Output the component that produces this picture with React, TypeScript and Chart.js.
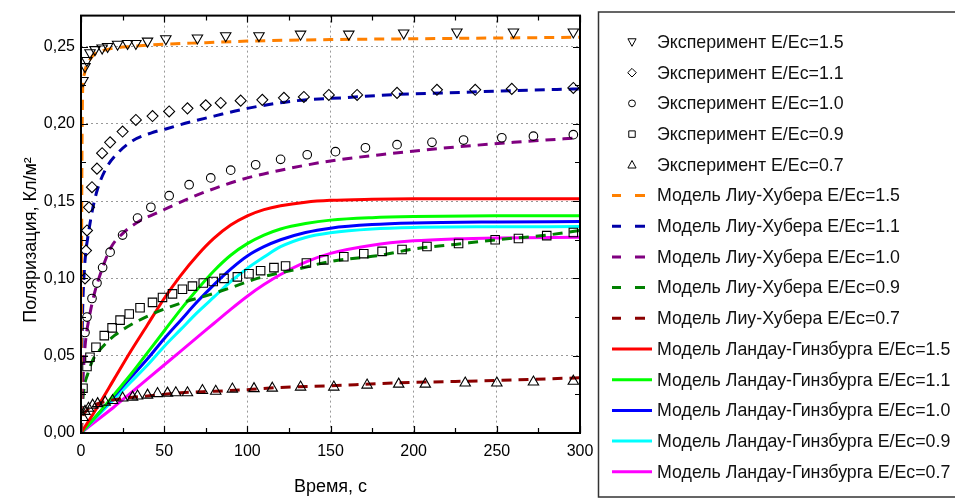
import React, { useEffect, useRef } from 'react';
import { Chart, registerables } from 'chart.js';
Chart.register(...registerables);

const xTicks = [0, 50, 100, 150, 200, 250, 300];
const xMinorTicks = [25, 75, 125, 175, 225, 275];
const yTicks = [0, 0.05, 0.1, 0.15, 0.2, 0.25];
const yMinorTicks = [0.025, 0.075, 0.125, 0.175, 0.225];
const xMax = 300;
const yMax = 0.27;

const xTitle = 'Время, с';
const yTitle = 'Поляризация, Кл/м²';

// Experiments
const exp15T = [1.2, 2.4, 3.5, 5.4, 8.4, 12.7, 16, 22, 28, 33, 40, 51, 70, 87, 107, 132, 161, 194, 226, 260, 296];
const exp15Y = [0.228, 0.237, 0.241, 0.246, 0.248, 0.249, 0.25, 0.2515, 0.252, 0.252, 0.2535, 0.255, 0.2555, 0.257, 0.257, 0.258, 0.258, 0.2587, 0.2594, 0.2594, 0.2594];

const exp11T = [2.4, 3, 3.6, 4.8, 6.6, 9.6, 12.7, 17.5, 25, 33, 43, 53, 64, 75, 84, 96, 109, 122, 134, 149, 166, 190, 214, 237, 259, 296];
const exp11Y = [0.1, 0.118, 0.131, 0.146, 0.159, 0.171, 0.181, 0.188, 0.195, 0.2025, 0.205, 0.208, 0.21, 0.212, 0.2135, 0.215, 0.2155, 0.2168, 0.2174, 0.2187, 0.2187, 0.22, 0.222, 0.222, 0.2226, 0.2232];

const exp10T = [2.4, 3.6, 6.6, 9.6, 13, 17.5, 25, 34, 42, 53, 65, 78, 90, 105, 120, 136, 153, 171, 190, 211, 230, 253, 272, 296];
const exp10Y = [0.065, 0.075, 0.087, 0.097, 0.107, 0.117, 0.128, 0.139, 0.146, 0.1535, 0.1606, 0.165, 0.17, 0.1735, 0.177, 0.18, 0.182, 0.1845, 0.1865, 0.188, 0.1895, 0.191, 0.192, 0.193];

const exp09T = [1.2, 3.6, 5.4, 9, 14, 18.7, 23.5, 29, 35.5, 43, 49, 55, 61, 67, 73.5, 79.5, 86, 94, 101, 108, 116, 123, 135.5, 146, 158, 170, 181, 193, 208, 227, 249, 263, 280, 296];
const exp09Y = [0.029, 0.043, 0.049, 0.0555, 0.063, 0.068, 0.073, 0.077, 0.081, 0.0845, 0.0877, 0.09, 0.093, 0.095, 0.097, 0.098, 0.1, 0.101, 0.103, 0.105, 0.107, 0.108, 0.11, 0.112, 0.114, 0.116, 0.1175, 0.1187, 0.1206, 0.1226, 0.125, 0.1258, 0.1277, 0.1297];

const exp07T = [1.2, 2.4, 4.5, 7, 10, 14.5, 19, 25, 31, 34, 40, 46, 52, 57, 64, 73, 81, 91, 104, 115, 132, 152, 172, 191, 207, 231, 250, 272, 296];
const exp07Y = [0.01, 0.014, 0.016, 0.018, 0.019, 0.02, 0.021, 0.0226, 0.0232, 0.0239, 0.0245, 0.0255, 0.0258, 0.026, 0.026, 0.0275, 0.027, 0.0284, 0.0287, 0.029, 0.0297, 0.0297, 0.031, 0.0316, 0.0316, 0.0323, 0.0323, 0.033, 0.0335];

// Liu-Huber model
const lh15T = [0, 0.3, 0.6, 1, 2, 3, 5, 8, 12, 20, 30, 50, 75, 100, 150, 200, 250, 300];
const lh15Y = [0, 0.1, 0.18, 0.222, 0.232, 0.237, 0.241, 0.245, 0.247, 0.249, 0.25, 0.2515, 0.2525, 0.2535, 0.2545, 0.255, 0.2555, 0.256];

const lh11T = [0, 0.5, 1, 2, 3, 4, 5, 7, 10, 15, 22, 31, 42, 52, 65, 80, 100, 130, 160, 190, 220, 260, 300];
const lh11Y = [0, 0.05, 0.08, 0.105, 0.118, 0.126, 0.133, 0.145, 0.158, 0.171, 0.181, 0.189, 0.194, 0.197, 0.201, 0.205, 0.21, 0.215, 0.217, 0.219, 0.22, 0.2215, 0.2226];

const lh10T = [0, 1, 2, 3, 5, 8, 12, 18, 25, 35, 45, 55, 70, 85, 100, 120, 150, 180, 220, 260, 300];
const lh10Y = [0, 0.03, 0.05, 0.062, 0.075, 0.09, 0.104, 0.12, 0.129, 0.137, 0.142, 0.147, 0.154, 0.16, 0.165, 0.17, 0.176, 0.18, 0.1845, 0.188, 0.191];

const lh09T = [0, 1, 2, 4, 7, 10, 15, 20, 30, 45, 60, 76, 90, 106, 130, 150, 180, 200, 225, 250, 280, 300];
const lh09Y = [0, 0.02, 0.03, 0.038, 0.047, 0.052, 0.058, 0.063, 0.07, 0.078, 0.084, 0.089, 0.094, 0.1, 0.106, 0.111, 0.115, 0.119, 0.122, 0.125, 0.128, 0.131];

const lh07T = [0, 1, 3, 6, 10, 15, 20, 30, 40, 50, 60, 80, 100, 120, 150, 180, 210, 240, 270, 300];
const lh07Y = [0, 0.01, 0.014, 0.017, 0.019, 0.0205, 0.0215, 0.023, 0.024, 0.025, 0.026, 0.027, 0.028, 0.0295, 0.0305, 0.032, 0.033, 0.0337, 0.0347, 0.0357];

// Landau-Ginzburg model
const lgT = [0, 10, 20, 30, 40, 50, 60, 70, 80, 90, 100, 110, 120, 135, 150, 175, 200, 250, 300];
const lg15Y = [0, 0.017, 0.035, 0.053, 0.07, 0.087, 0.102, 0.115, 0.126, 0.1345, 0.1405, 0.1445, 0.147, 0.1493, 0.1505, 0.1512, 0.1515, 0.1516, 0.1516];
const lg11Y = [0, 0.012, 0.025, 0.038, 0.052, 0.066, 0.08, 0.093, 0.105, 0.115, 0.1225, 0.128, 0.132, 0.1355, 0.1377, 0.1393, 0.14, 0.1405, 0.1406];
const lg10Y = [0, 0.012, 0.024, 0.036, 0.048, 0.061, 0.073, 0.085, 0.096, 0.106, 0.1145, 0.1205, 0.125, 0.1297, 0.1325, 0.1348, 0.1358, 0.1365, 0.1368];
const lg09Y = [0, 0.011, 0.022, 0.033, 0.044, 0.056, 0.067, 0.078, 0.088, 0.098, 0.1065, 0.1138, 0.1205, 0.1265, 0.1295, 0.132, 0.133, 0.1334, 0.1335];
const lg07T = [0, 10, 20, 30, 40, 50, 60, 70, 80, 90, 100, 110, 120, 135, 150, 175, 200, 225, 250, 300];
const lg07Y = [0, 0.0085, 0.017, 0.026, 0.035, 0.044, 0.053, 0.062, 0.071, 0.08, 0.0885, 0.096, 0.1025, 0.1105, 0.1162, 0.1215, 0.1243, 0.1256, 0.1262, 0.1266];

const FONT = '"Liberation Sans", Arial, sans-serif';

type Kind = 'marker' | 'dash' | 'solid';
interface S { label: string; t: number[]; y: number[]; kind: Kind; color: string; shape?: string; rot?: number; r?: number }

const series: S[] = [
  { label: 'Эксперимент E/Ec=1.5', t: exp15T, y: exp15Y, kind: 'marker', color: '#000', shape: 'triangle', rot: 180, r: 6 },
  { label: 'Эксперимент E/Ec=1.1', t: exp11T, y: exp11Y, kind: 'marker', color: '#000', shape: 'rectRot', r: 5.5 },
  { label: 'Эксперимент E/Ec=1.0', t: exp10T, y: exp10Y, kind: 'marker', color: '#000', shape: 'circle', r: 4.3 },
  { label: 'Эксперимент E/Ec=0.9', t: exp09T, y: exp09Y, kind: 'marker', color: '#000', shape: 'rect', r: 6 },
  { label: 'Эксперимент E/Ec=0.7', t: exp07T, y: exp07Y, kind: 'marker', color: '#000', shape: 'triangle', r: 6 },
  { label: 'Модель Лиу-Хубера E/Ec=1.5', t: lh15T, y: lh15Y, kind: 'dash', color: '#ff8000' },
  { label: 'Модель Лиу-Хубера E/Ec=1.1', t: lh11T, y: lh11Y, kind: 'dash', color: '#0000a8' },
  { label: 'Модель Лиу-Хубера E/Ec=1.0', t: lh10T, y: lh10Y, kind: 'dash', color: '#800080' },
  { label: 'Модель Лиу-Хубера E/Ec=0.9', t: lh09T, y: lh09Y, kind: 'dash', color: '#008000' },
  { label: 'Модель Лиу-Хубера E/Ec=0.7', t: lh07T, y: lh07Y, kind: 'dash', color: '#8b0000' },
  { label: 'Модель Ландау-Гинзбурга E/Ec=1.5', t: lgT, y: lg15Y, kind: 'solid', color: '#ff0000' },
  { label: 'Модель Ландау-Гинзбурга E/Ec=1.1', t: lgT, y: lg11Y, kind: 'solid', color: '#00ff00' },
  { label: 'Модель Ландау-Гинзбурга E/Ec=1.0', t: lgT, y: lg10Y, kind: 'solid', color: '#0000ff' },
  { label: 'Модель Ландау-Гинзбурга E/Ec=0.9', t: lgT, y: lg09Y, kind: 'solid', color: '#00ffff' },
  { label: 'Модель Ландау-Гинзбурга E/Ec=0.7', t: lg07T, y: lg07Y, kind: 'solid', color: '#ff00ff' },
];

function drawShape(ctx: CanvasRenderingContext2D, shape: string, rot: number, x: number, y: number, s: number) {
  ctx.beginPath();
  if (shape === 'circle') {
    ctx.arc(x, y, s * 0.8, 0, Math.PI * 2);
  } else if (shape === 'rect') {
    ctx.rect(x - s * 0.75, y - s * 0.75, s * 1.5, s * 1.5);
  } else if (shape === 'rectRot') {
    ctx.moveTo(x, y - s);
    ctx.lineTo(x + s, y);
    ctx.lineTo(x, y + s);
    ctx.lineTo(x - s, y);
    ctx.closePath();
  } else {
    const d = rot === 180 ? -1 : 1;
    ctx.moveTo(x, y - d * s);
    ctx.lineTo(x + s * 0.95, y + d * s * 0.75);
    ctx.lineTo(x - s * 0.95, y + d * s * 0.75);
    ctx.closePath();
  }
  ctx.stroke();
}

const decor = {
  id: 'decor',
  afterDraw(chart: any) {
    const { ctx, chartArea: a, scales } = chart;
    const x = scales.x, y = scales.y;
    ctx.save();
    ctx.strokeStyle = '#000';
    ctx.lineWidth = 1.2;
    ctx.beginPath();
    const tick = (v: number, len: number, axis: 'x' | 'y') => {
      if (axis === 'x') {
        const p = Math.round(x.getPixelForValue(v)) + 0.5;
        ctx.moveTo(p, a.bottom); ctx.lineTo(p, a.bottom - len);
        ctx.moveTo(p, a.top); ctx.lineTo(p, a.top + len);
      } else {
        const p = Math.round(y.getPixelForValue(v)) + 0.5;
        ctx.moveTo(a.left, p); ctx.lineTo(a.left + len, p);
        ctx.moveTo(a.right, p); ctx.lineTo(a.right - len, p);
      }
    };
    xTicks.forEach((v) => tick(v, 7, 'x'));
    xMinorTicks.forEach((v) => tick(v, 5, 'x'));
    yTicks.forEach((v) => tick(v, 7, 'y'));
    yMinorTicks.forEach((v) => tick(v, 5, 'y'));
    ctx.stroke();
    ctx.lineWidth = 2;
    ctx.strokeRect(a.left, a.top, a.right - a.left, a.bottom - a.top);

    // axis titles
    ctx.fillStyle = '#000';
    ctx.font = `18px ${FONT}`;
    ctx.textAlign = 'center';
    ctx.textBaseline = 'middle';
    ctx.fillText(xTitle, (a.left + a.right) / 2, 487);
    ctx.save();
    ctx.translate(31, 240);
    ctx.rotate(-Math.PI / 2);
    ctx.fillText(yTitle, 0, 0);
    ctx.restore();

    // legend box
    ctx.lineWidth = 1.5;
    ctx.strokeStyle = '#333';
    ctx.strokeRect(598.5, 12, 400, 485);
    ctx.font = `17.8px ${FONT}`;
    ctx.textAlign = 'left';
    series.forEach((s, i) => {
      const cy = 42 + i * 30.7;
      if (s.kind === 'marker') {
        ctx.strokeStyle = '#000';
        ctx.lineWidth = 1;
        drawShape(ctx, s.shape!, s.rot || 0, 632, cy, 4.3);
      } else {
        ctx.strokeStyle = s.color;
        ctx.lineWidth = 3;
        ctx.beginPath();
        if (s.kind === 'dash') {
          ctx.moveTo(612, cy); ctx.lineTo(621, cy);
          ctx.moveTo(635, cy); ctx.lineTo(645, cy);
        } else {
          ctx.moveTo(612, cy); ctx.lineTo(652, cy);
        }
        ctx.stroke();
      }
      ctx.fillStyle = '#111';
      ctx.fillText(s.label, 657, cy + 1);
    });
    ctx.restore();
  },
};

export default function App() {
  const ref = useRef<HTMLCanvasElement | null>(null);
  useEffect(() => {
    document.body.style.margin = '0';
    const datasets = series.map((s) => {
      const data = s.t.map((t, j) => ({ x: t, y: s.y[j] }));
      if (s.kind === 'marker') {
        return {
          label: s.label, data, showLine: false,
          pointStyle: s.shape, rotation: s.rot || 0, pointRadius: s.r,
          pointBorderColor: '#000', pointBackgroundColor: 'rgba(0,0,0,0)', pointBorderWidth: 1.1,
          order: 0,
        };
      }
      return {
        label: s.label, data, showLine: true, pointRadius: 0,
        borderColor: s.color, borderWidth: 3,
        borderDash: s.kind === 'dash' ? [10, 7] : [],
        cubicInterpolationMode: 'monotone',
        order: s.kind === 'dash' ? 1 : 2,
      };
    });
    const chart = new Chart(ref.current!, {
      type: 'scatter',
      data: { datasets: datasets as any },
      options: {
        animation: false,
        responsive: true,
        maintainAspectRatio: false,
        devicePixelRatio: 1,
        layout: { padding: { left: 0, right: 375, top: 13, bottom: 0 } },
        plugins: { legend: { display: false }, tooltip: { enabled: false } },
        scales: {
          x: {
            type: 'linear', min: 0, max: xMax,
            afterBuildTicks: (sc: any) => { sc.ticks = xTicks.map((v) => ({ value: v })); },
            afterFit: (sc: any) => { sc.height = 66; },
            ticks: { color: '#000', font: { family: FONT, size: 16 }, padding: 9, maxRotation: 0, callback: (v: any) => String(v) },
            grid: {
              drawTicks: false,
              color: (c: any) => (c.tick && (c.tick.value === 0 || c.tick.value === xMax) ? 'rgba(0,0,0,0)' : '#999'),
              lineWidth: 1,
            },
            border: { display: false, dash: [2, 3] },
          },
          y: {
            type: 'linear', min: 0, max: yMax,
            afterBuildTicks: (sc: any) => { sc.ticks = yTicks.map((v) => ({ value: v })); },
            afterFit: (sc: any) => { sc.width = 81; },
            ticks: { color: '#000', font: { family: FONT, size: 16 }, padding: 6, callback: (v: any) => Number(v).toFixed(2).replace('.', ',') },
            grid: {
              drawTicks: false,
              color: (c: any) => (c.tick && c.tick.value === 0 ? 'rgba(0,0,0,0)' : '#999'),
              lineWidth: 1,
            },
            border: { display: false, dash: [2, 3] },
          },
        },
      },
      plugins: [decor],
    });
    return () => chart.destroy();
  }, []);
  return (
    <div style={{ width: 955, height: 499, position: 'relative' }}>
      <canvas ref={ref} />
    </div>
  );
}
